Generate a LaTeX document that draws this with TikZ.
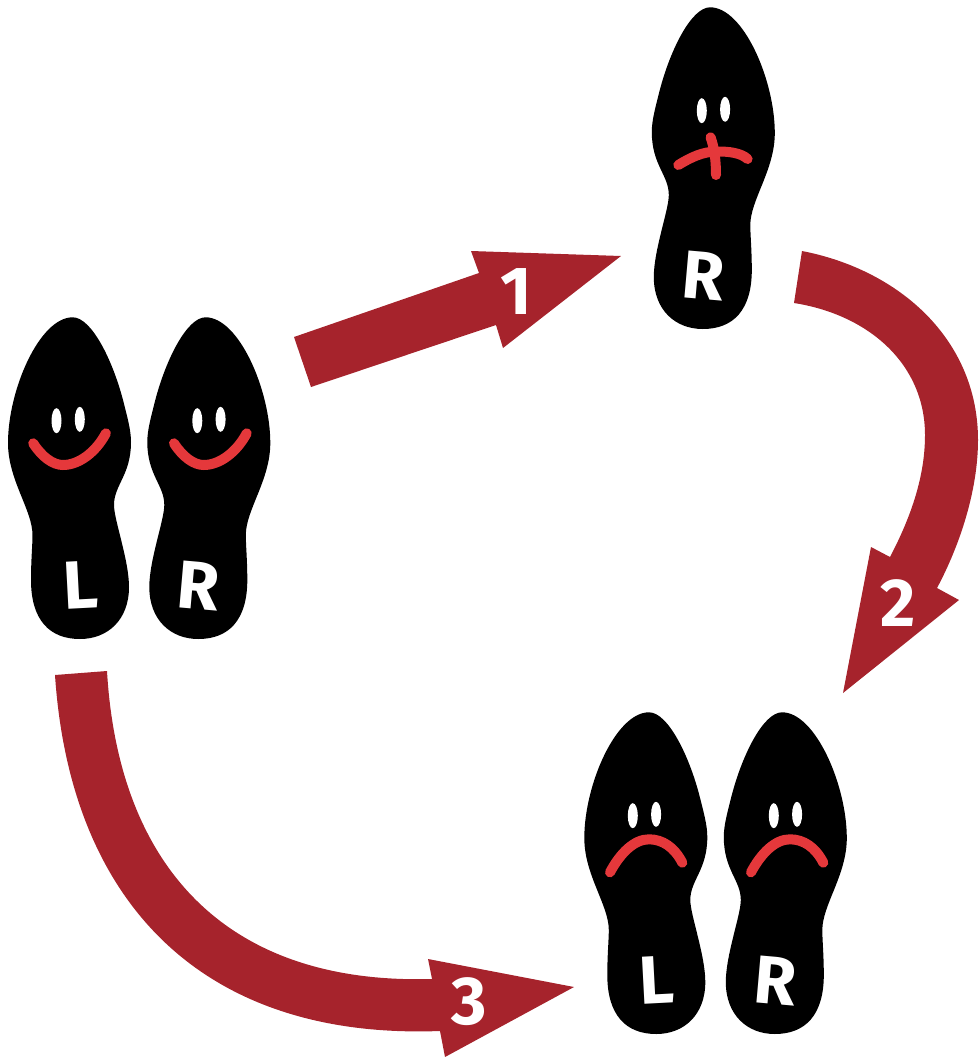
\documentclass[tikz,border=0pt]{standalone}
\usepackage{fontspec}
\setmainfont{Fira Sans}
\definecolor{arrowred}{HTML}{A6232C}
\definecolor{mouthred}{HTML}{E5383B}
\newcommand{\soleline}{(3.2,7.3) .. controls (22,7.3) and (43,50) .. (53.5,90) .. controls (58,108) and (61.5,120) .. (61.5,132) .. controls (61.5,165) and (44.5,175) .. (44.5,195) .. controls (44.5,210) and (59.5,250) .. (59.5,277) .. controls (59.5,310) and (38,329) .. (10.5,329) .. controls (-20,329) and (-38.5,310) .. (-38.5,270) .. controls (-38.5,250) and (-37,235) .. (-37,225) .. controls (-37,200) and (-61.5,170) .. (-61.5,133) .. controls (-61.5,80) and (-30,7.3) .. (3.2,7.3) -- cycle}
\tikzset{
    mark label/.style={text=white,font=\bfseries\fontsize{68}{68}\selectfont,inner sep=0pt},
    mouth/.style={draw=mouthred,line width=10pt,line cap=round},
    soleL/.pic={
        \fill[black] \soleline;
        \node[mark label,rotate=3] (-letter) at (11,275) {L};
    },
    soleR/.pic={
        \fill[black,xscale=-1] \soleline;
        \node[mark label,rotate=-5] (-letter) at (-10,276) {R};
    },
    eyes/.pic={
        \fill[white] (-11.5,110.7) ellipse (5 and 12.5);
        \fill[white] (11.8,109.3) ellipse (5 and 12.5);
    },
    smile/.pic={
        \pic {eyes};
        \draw[mouth] (-34.8,133.3) .. controls (-26,147) and (-15,155) .. (-5,155) .. controls (11,155) and (28,142) .. (37.9,123.3);
    },
    frown/.pic={
        \pic {eyes};
        \draw[mouth] (-34.3,167.3) .. controls (-24,148) and (-10,134.3) .. (4.7,134.3) .. controls (18,134.3) and (30,142) .. (38,157.7);
    },
    crossed/.pic={
        \pic {eyes};
        \draw[mouth] (-35,165) .. controls (-22,157) and (-10,151.7) .. (2,151.7) .. controls (15,151) and (28,153) .. (34.3,159);
        \draw[mouth] (-2.7,137.3) .. controls (1,148) and (2.7,160) .. (2.7,175);
    }
}
\begin{document}
\begin{tikzpicture}[x=1pt,y=-1pt, arrow body/.style={fill=arrowred}, step number/.style={text=white,font=\bfseries\fontsize{68}{68}\selectfont,inner sep=0pt}]
    \useasboundingbox (0,0) rectangle (978,1057);
    \pic (startL) at (69.5,310) {soleL};
    \pic (startR) at (208.8,310) {soleR};
    \pic at (68,310) {smile};
    \pic at (208.8,310) {smile};
    \pic (liftR) at (713.3,0) {soleR};
    \pic at (713.3,0) {crossed};
    \pic (endL) at (645.8,705) {soleL};
    \pic (endR) at (785.3,705) {soleR};
    \pic at (644.3,705) {frown};
    \pic at (785.3,705) {frown};
    \fill[arrow body] (294,337) -- (479,273) -- (471,251) -- (621,256) -- (503,348) -- (496,325) -- (311,387) -- cycle;
    \fill[arrow body] (802,251) .. controls (900,270) and (978,340) .. (978,440) .. controls (978,490) and (960,545) .. (937,588) -- (959,600) -- (843,693) -- (871,547) -- (890,557) .. controls (912,515) and (925,475) .. (925,435) .. controls (925,365) and (870,315) .. (794,303) -- cycle;
    \fill[arrow body] (107,671) .. controls (118,860) and (220,985) .. (432,979) -- (428,959) -- (574,987) -- (445,1057) -- (440,1031) .. controls (200,1040) and (70,900) .. (55,675) -- cycle;
    \node[step number] (stepone) at (516,292) {1};
    \node[step number] (steptwo) at (898,603) {2};
    \node[step number] (stepthree) at (469,1002) {3};
\end{tikzpicture}
\end{document}
